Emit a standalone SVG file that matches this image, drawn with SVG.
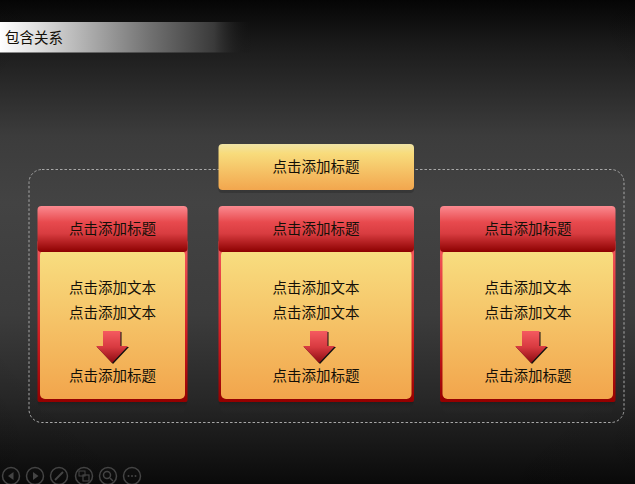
<svg xmlns="http://www.w3.org/2000/svg" width="635" height="484" viewBox="0 0 635 484">
<style>
text{font-family:"Noto Sans CJK SC","Liberation Sans",sans-serif;font-size:14.500px;fill:#141008;text-anchor:middle}
.ic{fill:none;stroke:#444;stroke-width:1.500}
.if{fill:#444}
</style>
<defs>
<linearGradient id="bg" x1="0" y1="0" x2="0" y2="1"><stop offset="0" stop-color="#050505"/><stop offset=".1" stop-color="#1c1c1c"/><stop offset=".28" stop-color="#3c3c3c"/><stop offset=".42" stop-color="#434343"/><stop offset=".65" stop-color="#3c3c3c"/><stop offset=".82" stop-color="#282828"/><stop offset="1" stop-color="#0a0a0a"/></linearGradient>
<radialGradient id="vig" cx=".5" cy=".45" r=".8"><stop offset=".7" stop-color="#000" stop-opacity="0"/><stop offset="1" stop-color="#000" stop-opacity=".15"/></radialGradient>
<linearGradient id="title" x1="0" y1="0" x2="1" y2="0"><stop offset="0" stop-color="#fff"/><stop offset=".15" stop-color="#dedede"/><stop offset=".6" stop-color="#707070"/><stop offset=".85" stop-color="#3a3a3a"/><stop offset="1" stop-color="#111" stop-opacity="0"/></linearGradient>
<linearGradient id="top" x1="0" y1="0" x2="0" y2="1"><stop offset="0" stop-color="#efe3a6"/><stop offset=".2" stop-color="#f8dc7c"/><stop offset="1" stop-color="#f2a64e"/></linearGradient>
<linearGradient id="head" x1="0" y1="0" x2="0" y2="1"><stop offset="0" stop-color="#fb8a90"/><stop offset=".35" stop-color="#e84a4e"/><stop offset=".6" stop-color="#d83c40"/><stop offset="1" stop-color="#8c0000"/></linearGradient>
<linearGradient id="outer" x1="0" y1="0" x2="0" y2="1"><stop offset="0" stop-color="#f55a5e"/><stop offset=".6" stop-color="#cf1c20"/><stop offset="1" stop-color="#940000"/></linearGradient>
<linearGradient id="body" x1="0" y1="0" x2="0" y2="1"><stop offset="0" stop-color="#f8de80"/><stop offset="1" stop-color="#f2a54c"/></linearGradient>
<linearGradient id="shadow" x1="0" y1="0" x2="0" y2="1"><stop offset="0" stop-color="#1a1a1a" stop-opacity=".6"/><stop offset="1" stop-color="#333" stop-opacity="0"/></linearGradient>
<linearGradient id="arr" x1="0" y1="0" x2="0" y2="1"><stop offset="0" stop-color="#f55a60"/><stop offset=".5" stop-color="#d83a40"/><stop offset="1" stop-color="#8c0a10"/></linearGradient>
<path id="arrow" d="M-9 0H8.500V15H16L0 32L-16 15H-9Z"/>
</defs>
<rect width="635" height="484" fill="url(#bg)"/>
<rect width="635" height="484" fill="url(#vig)"/>
<g id="title-bar"><rect x="0" y="22" width="252" height="30.500" fill="url(#title)"/><text x="34" y="43" style="font-size:14.500px">包含关系</text></g>
<g id="connectors"><rect x="29" y="169.500" width="595" height="253" rx="13" fill="none" stroke="#a8a8a8" stroke-width="1" stroke-dasharray="2.500 2"/></g>
<g id="root"><rect x="218.500" y="147" width="195.500" height="46" rx="4" fill="#222" opacity=".35"/><rect x="218.500" y="144" width="195.500" height="46" rx="4" fill="url(#top)"/><text x="316" y="172">点击添加标题</text></g>
<g id="card-left">
<path d="M37.500 402H187.500L183 414H42Z" fill="url(#shadow)"/>
<rect x="37.500" y="240" width="150" height="162" rx="2" fill="url(#outer)"/>
<rect x="40" y="250" width="145" height="149" rx="5" fill="url(#body)"/>
<rect x="37.500" y="206" width="150" height="46" rx="4" fill="url(#head)"/>
<text x="112.500" y="234">点击添加标题</text><text x="112.500" y="293">点击添加文本</text><text x="112.500" y="318">点击添加文本</text>
<use href="#arrow" x="113" y="332" fill="#111"/><use href="#arrow" x="112" y="331" fill="url(#arr)"/>
<text x="112.500" y="381">点击添加标题</text>
</g>
<g id="card-middle">
<path d="M218.500 402H414L409 414H223Z" fill="url(#shadow)"/>
<rect x="218.500" y="240" width="195.500" height="162" rx="2" fill="url(#outer)"/>
<rect x="221" y="250" width="190.500" height="149" rx="5" fill="url(#body)"/>
<rect x="218.500" y="206" width="195.500" height="46" rx="4" fill="url(#head)"/>
<text x="316" y="234">点击添加标题</text><text x="316" y="293">点击添加文本</text><text x="316" y="318">点击添加文本</text>
<use href="#arrow" x="320" y="332" fill="#111"/><use href="#arrow" x="319" y="331" fill="url(#arr)"/>
<text x="316" y="381">点击添加标题</text>
</g>
<g id="card-right">
<path d="M440 402H615.500L611 414H445Z" fill="url(#shadow)"/>
<rect x="440" y="240" width="175.500" height="162" rx="2" fill="url(#outer)"/>
<rect x="442.500" y="250" width="170.500" height="149" rx="5" fill="url(#body)"/>
<rect x="440" y="206" width="175.500" height="46" rx="4" fill="url(#head)"/>
<text x="528" y="234">点击添加标题</text><text x="528" y="293">点击添加文本</text><text x="528" y="318">点击添加文本</text>
<use href="#arrow" x="532" y="332" fill="#111"/><use href="#arrow" x="531" y="331" fill="url(#arr)"/>
<text x="528" y="381">点击添加标题</text>
</g>
<g id="toolbar">
<circle class="ic" cx="11" cy="476" r="8.500"/><path class="if" d="M13.500 472V480L8 476Z"/>
<circle class="ic" cx="35" cy="476" r="8.500"/><path class="if" d="M33 472V480L38.500 476Z"/>
<circle class="ic" cx="59" cy="476" r="8.500"/><path class="ic" style="stroke-width:2" d="M55 480L63 472"/>
<circle class="ic" cx="84" cy="476" r="8.500"/><rect class="ic" x="79" y="471" width="6" height="5" style="stroke-width:1"/><rect class="ic" x="83" y="475" width="6" height="6" style="stroke-width:1.200"/>
<circle class="ic" cx="108" cy="476" r="8.500"/><circle class="ic" cx="107" cy="475" r="3.500"/><path class="ic" d="M110 478L113 481"/>
<circle class="ic" cx="132" cy="476" r="8.500"/><circle class="if" cx="128.500" cy="476" r="1"/><circle class="if" cx="132" cy="476" r="1"/><circle class="if" cx="135.500" cy="476" r="1"/>
</g>
</svg>
